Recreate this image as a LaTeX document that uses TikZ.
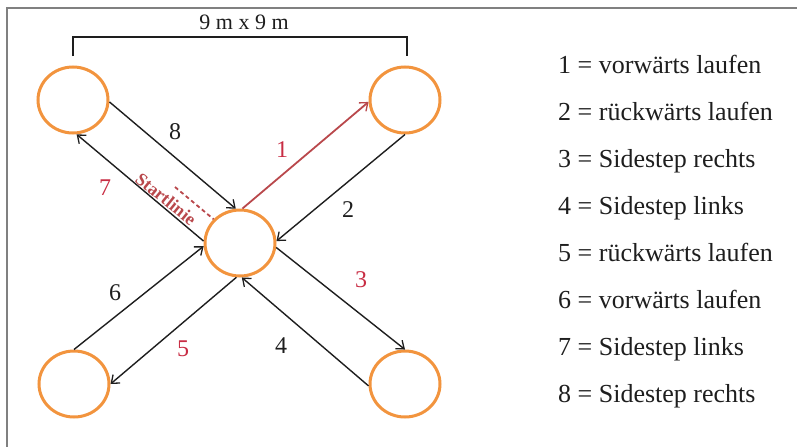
\documentclass[tikz,border=0pt]{standalone}
\usepackage{fontspec}
\setmainfont{Liberation Serif}
\usetikzlibrary{arrows.meta,shapes.geometric}
\definecolor{ringc}{RGB}{242,148,62}
\definecolor{redline}{RGB}{185,72,76}
\definecolor{rednum}{RGB}{200,45,68}
\definecolor{framegray}{RGB}{128,128,128}
\definecolor{darkline}{RGB}{30,30,30}
\begin{document}
\begin{tikzpicture}[x=1pt,y=-1pt,
  ring/.style={ellipse,draw=ringc,line width=3pt,minimum width=70pt,minimum height=66pt,inner sep=0pt},
  conn/.style={draw=darkline,line width=1.4pt,-{Straight Barb[length=7pt,width=11pt,line width=1.3pt]}},
  redconn/.style={conn,draw=redline,line width=1.8pt},
  numlbl/.style={font=\fontsize{24}{24}\selectfont,inner sep=0pt,text=darkline},
  rednumlbl/.style={numlbl,text=rednum},
  legend/.style={anchor=base west,font=\fontsize{26}{26}\selectfont,inner sep=0pt,text=darkline}]
\useasboundingbox (0,0) rectangle (797,447);
% frame
\draw[framegray,line width=2pt] (797,8) -- (7,8) -- (7,447);
% bracket
\draw[darkline,line width=1.5pt] (73,56) -- (73,37) -- (407,37) -- (407,56);
\node[numlbl,font=\fontsize{22}{22}\selectfont] (dim) at (244,22) {9 m x 9 m};
% rings
\node[ring] (tl) at (73,100) {};
\node[ring] (tr) at (405,100) {};
\node[ring] (c)  at (240,243) {};
\node[ring] (bl) at (74,384) {};
\node[ring] (br) at (405,384) {};
% connectors
\draw[conn] (tl.-3) -- (c.97);      % 8
\draw[redconn] (c.86) -- (tr.183);  % 1
\draw[conn] (tr.-90) -- (c.3);      % 2
\draw[conn] (c.177) -- (tl.-84);    % 7
\draw[conn] (c.-7) -- (br.90);      % 3
\draw[conn] (br.183) -- (c.-87);    % 4
\draw[conn] (c.-96) -- (bl.0);      % 5
\draw[conn] (bl.90) -- (c.185);     % 6
% start line
\coordinate (sl) at (175,187);
\draw[redline,line width=1.8pt,dash pattern=on 4pt off 3pt] (sl) -- (c.138);
\node[text=redline,rotate=-39,font=\fontsize{18}{18}\selectfont\bfseries,inner sep=0pt] (start) at (166,199) {Startlinie};
% arrow labels
\node[numlbl] (n8) at (175,132) {8};
\node[rednumlbl] (n1) at (282,150) {1};
\node[rednumlbl] (n7) at (105,188) {7};
\node[numlbl] (n2) at (348,210) {2};
\node[rednumlbl] (n3) at (361,280) {3};
\node[numlbl] (n6) at (115,293) {6};
\node[rednumlbl] (n5) at (183,349) {5};
\node[numlbl] (n4) at (281,346) {4};
% legend
\node[legend] (l1) at (558,73) {1 = vorwärts laufen};
\node[legend] (l2) at (558,120) {2 = rückwärts laufen};
\node[legend] (l3) at (558,167) {3 = Sidestep rechts};
\node[legend] (l4) at (558,214) {4 = Sidestep links};
\node[legend] (l5) at (558,261) {5 = rückwärts laufen};
\node[legend] (l6) at (558,308) {6 = vorwärts laufen};
\node[legend] (l7) at (558,355) {7 = Sidestep links};
\node[legend] (l8) at (558,402) {8 = Sidestep rechts};
\end{tikzpicture}
\end{document}
